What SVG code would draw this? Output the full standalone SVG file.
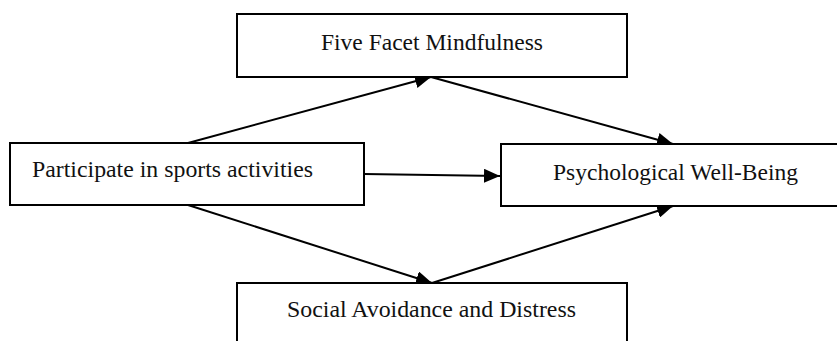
<svg xmlns="http://www.w3.org/2000/svg" width="837" height="341" viewBox="0 0 837 341">
<style>
.box{fill:#fff;stroke:#000;stroke-width:2}
.lbl{font-family:"Liberation Serif","Times New Roman",serif;font-size:23px;fill:#111}
.con{stroke:#000;stroke-width:2;fill:none;marker-end:url(#ah)}
</style>
<defs>
<marker id="ah" viewBox="0 0 16 14" markerWidth="16" markerHeight="14" refX="16" refY="7" orient="auto" markerUnits="userSpaceOnUse">
<path d="M0,0 L16,7 L0,14 Z" fill="#000"/>
</marker>
</defs>
<rect width="837" height="341" fill="#fff"/>
<g id="connectors">
<line class="con" x1="188" y1="143" x2="431" y2="77"/>
<line class="con" x1="431" y1="77" x2="673" y2="144"/>
<line class="con" x1="364" y1="174" x2="500" y2="176"/>
<line class="con" x1="188" y1="205" x2="432" y2="283"/>
<line class="con" x1="432" y1="283" x2="673" y2="206"/>
</g>
<g id="node-ffm">
<rect class="box" x="237" y="14" width="390" height="63"/>
<text class="lbl" x="321" y="50" textLength="222" lengthAdjust="spacingAndGlyphs">Five Facet Mindfulness</text>
</g>
<g id="node-sports">
<rect class="box" x="10" y="143" width="354" height="62"/>
<text class="lbl" x="32" y="177" textLength="281" lengthAdjust="spacingAndGlyphs">Participate in sports activities</text>
</g>
<g id="node-pwb">
<rect class="box" x="501" y="144" width="350" height="62"/>
<text class="lbl" x="553" y="180" textLength="245" lengthAdjust="spacingAndGlyphs">Psychological Well-Being</text>
</g>
<g id="node-sad">
<rect class="box" x="237" y="283" width="390" height="70"/>
<text class="lbl" x="287" y="317" textLength="289" lengthAdjust="spacingAndGlyphs">Social Avoidance and Distress</text>
</g>
</svg>
